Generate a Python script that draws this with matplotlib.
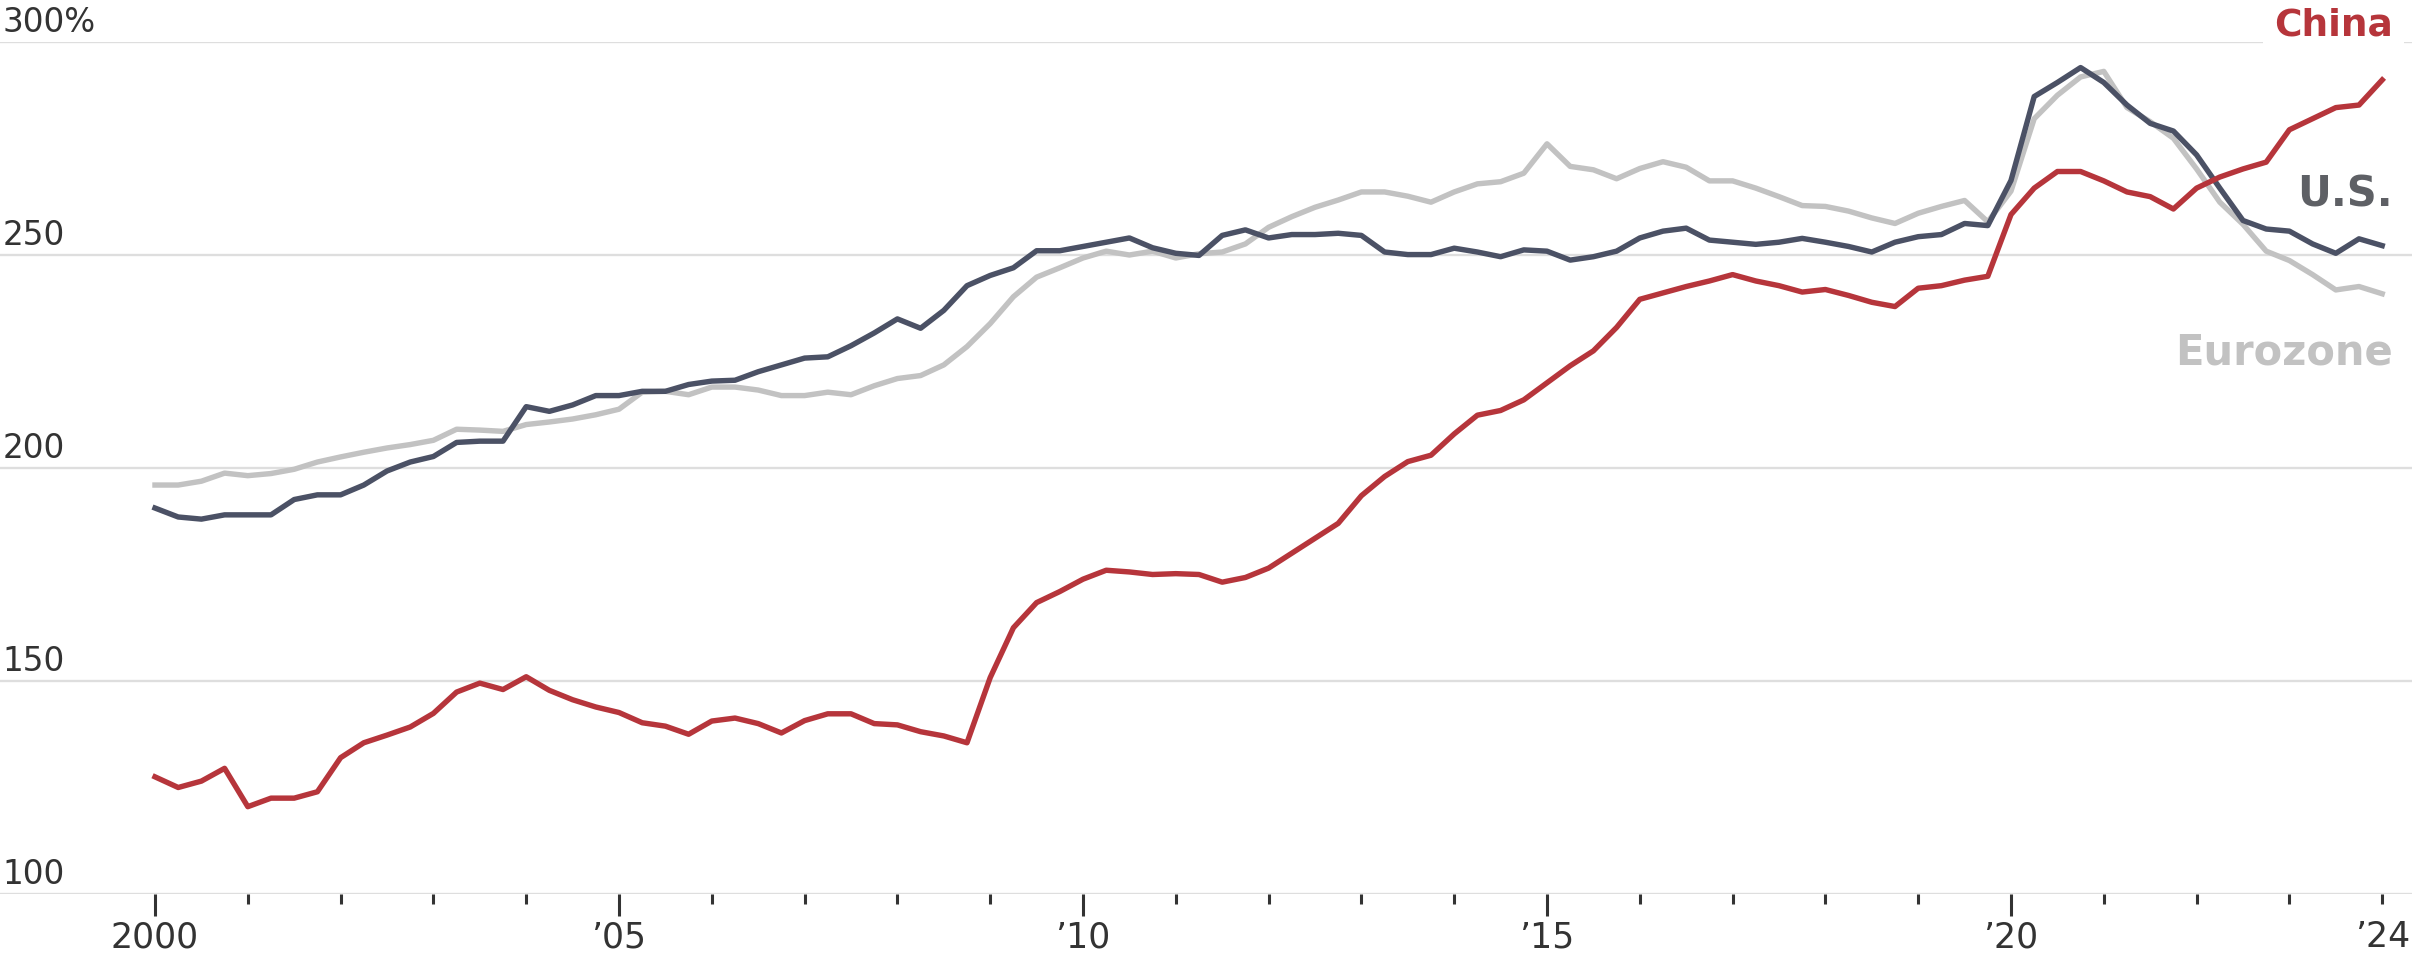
import matplotlib
matplotlib.use("Agg")
import matplotlib.pyplot as plt
import numpy as np
import pandas as pd

# ---------------- data (quarterly, 2000Q1 .. 2024Q1) ----------------
quarters = pd.period_range("2000Q1", "2024Q1", freq="Q")

china = [
    127.5, 125.0, 126.5, 129.5,   # 2000
    120.5, 122.5, 122.5, 124.0,   # 2001
    132.0, 135.5, 137.3, 139.2,   # 2002
    142.4, 147.4, 149.5, 148.0,   # 2003
    151.0, 147.8, 145.6, 143.9,   # 2004
    142.6, 140.2, 139.4, 137.5,   # 2005
    140.6, 141.3, 140.0, 137.8,   # 2006
    140.7, 142.3, 142.3, 140.0,   # 2007
    139.7, 138.1, 137.1, 135.5,   # 2008
    150.8, 162.5, 168.4, 171.0,   # 2009
    173.9, 176.0, 175.6, 175.0,   # 2010
    175.2, 175.0, 173.2, 174.3,   # 2011
    176.5, 180.0, 183.5, 187.0,   # 2012
    193.5, 198.0, 201.5, 203.0,   # 2013
    208.0, 212.4, 213.5, 216.0,   # 2014
    220.0, 224.0, 227.5, 233.0,   # 2015
    239.6, 241.1, 242.6, 243.9,   # 2016
    245.4, 243.9, 242.8, 241.3,   # 2017
    241.9, 240.5, 238.9, 237.9,   # 2018
    242.2, 242.8, 244.1, 245.0,   # 2019
    259.5, 265.7, 269.6, 269.6,   # 2020
    267.4, 264.8, 263.7, 260.8,   # 2021
    265.7, 268.3, 270.2, 271.8,   # 2022
    279.4, 282.0, 284.6, 285.2,   # 2023
    291.1,                        # 2024
]

us = [
    190.6, 188.5, 188.0, 189.0,
    189.0, 189.0, 192.6, 193.7,
    193.7, 196.0, 199.3, 201.4,
    202.7, 206.0, 206.3, 206.3,
    214.4, 213.3, 214.8, 217.0,
    217.0, 218.0, 218.0, 219.6,
    220.4, 220.6, 222.6, 224.2,
    225.8, 226.1, 228.7, 231.7,
    235.0, 232.8, 237.0, 242.8,
    245.2, 247.0, 251.0, 251.0,
    252.0, 253.0, 254.0, 251.7,
    250.4, 249.9, 254.6, 255.9,
    254.0, 254.8, 254.8, 255.1,
    254.6, 250.7, 250.1, 250.1,
    251.6, 250.7, 249.6, 251.2,
    250.9, 248.8, 249.6, 250.9,
    254.0, 255.6, 256.3, 253.5,
    253.0, 252.5, 253.0, 253.9,
    253.0, 252.0, 250.7, 253.0,
    254.3, 254.8, 257.4, 256.9,
    267.5, 287.2, 290.5, 294.0,
    290.5, 285.2, 280.9, 279.1,
    273.5, 265.7, 258.1, 256.1,
    255.6, 252.6, 250.4, 253.8,
    252.2,
]

eurozone = [
    196.0, 196.0, 196.9, 198.8,
    198.2, 198.7, 199.7, 201.4,
    202.6, 203.7, 204.7, 205.5,
    206.5, 209.1, 208.9, 208.6,
    210.2, 210.8, 211.5, 212.5,
    213.8, 217.8, 218.0, 217.2,
    219.0, 219.0, 218.3, 217.0,
    217.0, 217.8, 217.2, 219.3,
    221.0, 221.7, 224.2, 228.5,
    233.9, 240.2, 244.8, 247.0,
    249.3, 250.9, 250.0, 250.9,
    249.3, 250.3, 250.7, 252.6,
    256.5, 259.0, 261.2, 262.9,
    264.8, 264.8, 263.8, 262.4,
    264.8, 266.7, 267.2, 269.2,
    276.1, 270.8, 270.0, 267.9,
    270.3, 271.9, 270.6, 267.4,
    267.4, 265.7, 263.7, 261.6,
    261.4, 260.3, 258.7, 257.4,
    259.8, 261.4, 262.8, 257.8,
    265.0, 282.0, 287.5, 291.8,
    293.1, 284.6, 281.3, 277.4,
    270.2, 262.4, 257.2, 250.9,
    248.7, 245.4, 241.8, 242.6,
    240.9,
]

y_ticks = [100, 150, 200, 250, 300]
y_labels = ["100", "150", "200", "250", "300%"]
x_major = [2000, 2005, 2010, 2015, 2020, 2024]
x_major_labels = ["2000", "\u201905", "\u201910", "\u201915", "\u201920", "\u201924"]

# ---------------- styling ----------------
C_CHINA = "#b6353b"
C_US = "#4b5165"
C_EURO = "#c2c2c2"
C_US_LABEL = "#5e6065"
C_GRID = "#dedede"
C_TEXT = "#333333"

plt.rcParams["font.family"] = ["DejaVu Sans"]

W, H, DPI = 2412, 957, 100
fig = plt.figure(figsize=(W / DPI, H / DPI), dpi=DPI)
fig.patch.set_facecolor("white")

bottom_px, top_px = 894, 42
ax = fig.add_axes([0, (H - bottom_px) / H, 1, (bottom_px - top_px) / H])

x = np.array([q.year + (q.quarter - 1) / 4 for q in quarters])

px_per_year = 92.8
x0_px = 155
ax.set_xlim(2000 - x0_px / px_per_year, 2000 + (W - x0_px) / px_per_year)
ax.set_ylim(100, 300)

for v in y_ticks:
    ax.axhline(v, color=C_GRID, lw=1.7, zorder=1)

ax.plot(x, eurozone, color=C_EURO, lw=3.9, zorder=3, solid_joinstyle="round")
ax.plot(x, us, color=C_US, lw=3.9, zorder=4, solid_joinstyle="round")
ax.plot(x, china, color=C_CHINA, lw=3.9, zorder=5, solid_joinstyle="round")

for spine in ax.spines.values():
    spine.set_visible(False)

ax.set_yticks([])
ax.set_xticks(x_major)
ax.set_xticklabels(x_major_labels, fontsize=25, color=C_TEXT)
ax.set_xticks([yr for yr in range(2000, 2025) if yr not in x_major], minor=True)
ax.tick_params(axis="x", which="major", length=16, width=2.2, color=C_TEXT, pad=3)
ax.tick_params(axis="x", which="minor", length=7.5, width=2.2, color=C_TEXT)
ax.xaxis.get_major_ticks()[-1].tick1line.set_markersize(7.5)

xmin = ax.get_xlim()[0]
for v, lab in zip(y_ticks, y_labels):
    ax.annotate(lab, xy=(xmin, v), xytext=(2, 7.5), textcoords="offset points",
                ha="left", va="baseline", fontsize=23.5, color=C_TEXT,
                annotation_clip=False)

x_lab = 2000 + (2393 - x0_px) / px_per_year
ax.text(x_lab, 301.6, "China", ha="right", va="baseline", fontsize=27,
        fontweight="bold", color=C_CHINA, zorder=6, clip_on=False,
        bbox=dict(boxstyle="square,pad=0.3", fc="white", ec="none"))
ax.text(x_lab, 261.5, "U.S.", ha="right", va="baseline", fontsize=30,
        fontweight="bold", color=C_US_LABEL, zorder=6)
ax.text(x_lab, 224.3, "Eurozone", ha="right", va="baseline", fontsize=30,
        fontweight="bold", color=C_EURO, zorder=6)

fig.savefig("out.png", dpi=DPI, facecolor="white")
